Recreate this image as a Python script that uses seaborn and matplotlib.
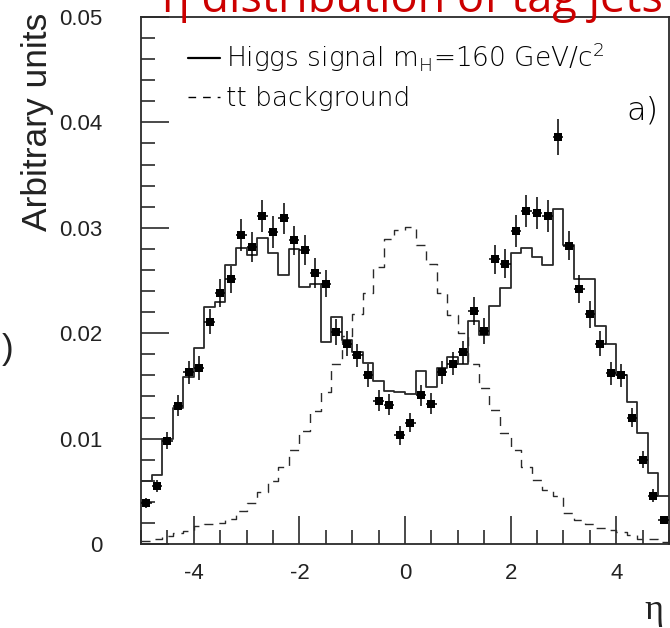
import matplotlib
matplotlib.use("Agg")
import matplotlib.pyplot as plt
import numpy as np
import pandas as pd
import seaborn as sns
from matplotlib.lines import Line2D
from matplotlib.ticker import MultipleLocator

# binning of the eta histograms
eta_min, eta_max, n_bins = -5.0, 5.0, 50

# Higgs signal (solid step histogram), one value per bin from -5 to 5
higgs_hist = [0.0060, 0.0065, 0.0100, 0.0129, 0.0158, 0.0186, 0.0225, 0.0230, 0.0265, 0.0281,
              0.0274, 0.0290, 0.0276, 0.0255, 0.0280, 0.0244, 0.0247, 0.0192, 0.0215, 0.0194,
              0.0182, 0.0172, 0.0155, 0.0145, 0.0144, 0.0142, 0.0164, 0.0149, 0.0167, 0.0177,
              0.0171, 0.0212, 0.0198, 0.0226, 0.0243, 0.0276, 0.0281, 0.0272, 0.0265, 0.0318,
              0.0284, 0.0251, 0.0251, 0.0207, 0.0190, 0.0160, 0.0135, 0.0105, 0.0067, 0.0046]

# tt background (dashed step histogram)
ttbar_hist = [0.0003, 0.0005, 0.0008, 0.0010, 0.0012, 0.0017, 0.0019, 0.0020, 0.0024, 0.0031,
              0.0039, 0.0049, 0.0060, 0.0073, 0.0089, 0.0107, 0.0126, 0.0144, 0.0171, 0.0197,
              0.0218, 0.0238, 0.0263, 0.0289, 0.0298, 0.0301, 0.0284, 0.0266, 0.0238, 0.0217,
              0.0200, 0.0171, 0.0148, 0.0127, 0.0105, 0.0089, 0.0073, 0.0061, 0.0051, 0.0046,
              0.0029, 0.0023, 0.0019, 0.0015, 0.0013, 0.0011, 0.0009, 0.0005, 0.0005, 0.0002]

# points with error bars
points = [0.0039, 0.0055, 0.0098, 0.0131, 0.0163, 0.0167, 0.0211, 0.0238, 0.0251, 0.0293,
          0.0282, 0.0311, 0.0296, 0.0309, 0.0288, 0.0279, 0.0257, 0.0247, 0.0201, 0.0190,
          0.0179, 0.0160, 0.0136, 0.0132, 0.0103, 0.0115, 0.0141, 0.0133, 0.0163, 0.0171,
          0.0182, 0.0221, 0.0202, 0.0270, 0.0266, 0.0297, 0.0316, 0.0314, 0.0311, 0.0386,
          0.0283, 0.0242, 0.0218, 0.0190, 0.0162, 0.0160, 0.0120, 0.0080, 0.0046, 0.0023]
points_err = [0.0005, 0.0006, 0.0008, 0.0010, 0.0011, 0.0011, 0.0012, 0.0013, 0.0013, 0.0015,
              0.0014, 0.0015, 0.0015, 0.0015, 0.0014, 0.0014, 0.0014, 0.0013, 0.0012, 0.0012,
              0.0011, 0.0011, 0.0010, 0.0010, 0.0009, 0.0009, 0.0010, 0.0010, 0.0011, 0.0011,
              0.0011, 0.0013, 0.0012, 0.0014, 0.0014, 0.0015, 0.0015, 0.0015, 0.0015, 0.0017,
              0.0014, 0.0013, 0.0013, 0.0012, 0.0011, 0.0011, 0.0009, 0.0008, 0.0006, 0.0004]

x_ticks = [-4, -2, 0, 2, 4]
x_tick_labels = ["-4", "-2", "0", "2", "4"]
y_ticks = [0, 0.01, 0.02, 0.03, 0.04, 0.05]
y_tick_labels = ["0", "0.01", "0.02", "0.03", "0.04", "0.05"]
legend_labels = [r"Higgs signal m$_{\mathregular{H}}$=160 GeV/c$^{\mathregular{2}}$",
                 "tt background"]

edges = np.linspace(eta_min, eta_max, n_bins + 1)
centers = (edges[:-1] + edges[1:]) / 2
half_bin = (edges[1] - edges[0]) / 2

df = pd.DataFrame({"eta": centers, "higgs": higgs_hist, "ttbar": ttbar_hist,
                   "points": points, "err": points_err})

sns.set_theme(style="ticks")
plt.rcParams["font.family"] = ["Liberation Sans", "DejaVu Sans"]
plt.rcParams["axes.unicode_minus"] = False

line_col = "#2a2a2a"
fig = plt.figure(figsize=(6.7, 6.28), dpi=100, facecolor="white")
ax = fig.add_axes([141 / 670, 1 - 544 / 628, 528 / 670, 527 / 628])

sns.histplot(data=df, x="eta", weights="higgs", bins=edges.tolist(), element="step",
             fill=False, color=line_col, linewidth=1.3, ax=ax)
sns.histplot(data=df, x="eta", weights="ttbar", bins=edges.tolist(), element="step",
             fill=False, color=line_col, linewidth=1.0, linestyle=(0, (6.5, 5)), ax=ax)

ax.errorbar(df["eta"], df["points"], yerr=df["err"], xerr=half_bin, fmt="none",
            ecolor="black", elinewidth=1.1, capsize=0, zorder=3)
sns.scatterplot(data=df, x="eta", y="points", marker="s", s=28, color="black",
                edgecolor="black", linewidth=0, ax=ax, zorder=4)

ax.set_xlim(eta_min, eta_max)
ax.set_ylim(0, 0.05)
ax.set_xticks(x_ticks)
ax.set_xticklabels(x_tick_labels)
ax.set_yticks(y_ticks)
ax.set_yticklabels(y_tick_labels)
ax.xaxis.set_minor_locator(MultipleLocator(0.5))
ax.yaxis.set_minor_locator(MultipleLocator(0.002))
ax.tick_params(which="both", direction="in", color=line_col, width=1.2,
               bottom=True, left=True, top=False, right=False)
ax.tick_params(which="major", length=20)
ax.tick_params(which="minor", length=10)
ax.tick_params(axis="y", which="major", pad=28, labelsize=16, labelcolor="#222222")
ax.tick_params(axis="x", which="major", pad=14, labelsize=16, labelcolor="#222222")
for sp in ax.spines.values():
    sp.set_color(line_col)
    sp.set_linewidth(1.3)

ax.set_ylabel("Arbitrary units", fontsize=25.5, loc="top", color="#222222")
ax.yaxis.set_label_coords(-0.165, 1.008)
ax.set_xlabel("η", loc="right", fontsize=26, family="Liberation Serif",
              va="baseline", color="#222222")
ax.xaxis.set_label_coords(0.99, -0.142)

handles = [Line2D([], [], color="black", lw=1.6),
           Line2D([], [], color="black", lw=1.0, ls=(0, (5.5, 5)))]
ax.legend(handles, legend_labels, loc="upper left", bbox_to_anchor=(0.089, 0.955),
          frameon=False, handlelength=1.2, handletextpad=0.25, labelspacing=0.45,
          borderpad=0, borderaxespad=0, labelcolor="black",
          prop={"family": "DejaVu Sans", "size": 19, "weight": "light"})
ax.text(0.92, 0.806, "a)", transform=ax.transAxes, fontsize=23,
        family="DejaVu Sans", weight="light", va="baseline", color="black")

fig.text(162 / 670, 1 - 12 / 628, "η distribution of tag jets", color="#cc0000",
         fontsize=32.5, family=["Open Sans", "DejaVu Sans"], ha="left", va="baseline")
fig.text(13 / 670, 1 - 350 / 628, ")", fontsize=25, ha="right", va="center",
         color="#222222")

fig.savefig("out.png", dpi=100, facecolor="white")
